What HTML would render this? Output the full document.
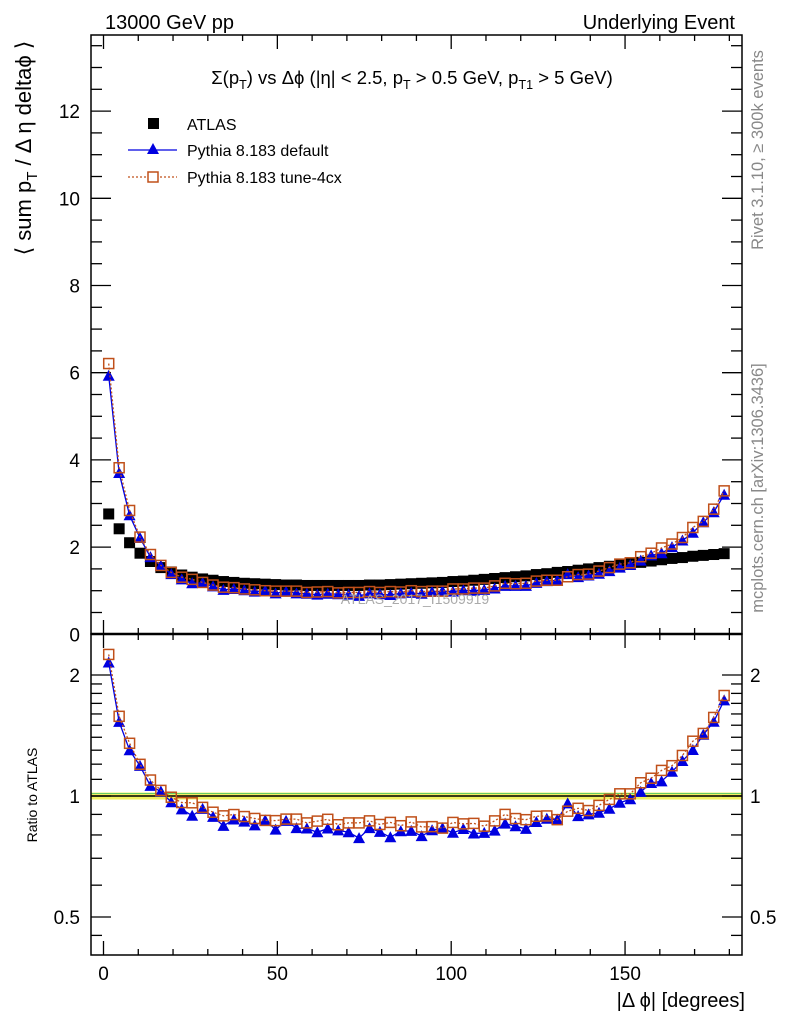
<!DOCTYPE html>
<html><head><meta charset="utf-8"><style>
html,body{margin:0;padding:0;background:#fff;}
svg{display:block;font-family:"Liberation Sans",sans-serif;}
</style></head><body>
<svg id="chart" width="786" height="1024" viewBox="0 0 786 1024" xmlns="http://www.w3.org/2000/svg">
<g id="frames"></g>
<g id="marks"></g>
<g id="texts">
<text x="105" y="29" font-size="20">13000 GeV pp</text>
<text x="735" y="29" font-size="20" text-anchor="end">Underlying Event</text>
<text x="412" y="84" font-size="18.5" text-anchor="middle">Σ(p<tspan font-size="12.5" dy="5">T</tspan><tspan dy="-5">) vs Δϕ (|η| &lt; 2.5, p</tspan><tspan font-size="12.5" dy="5">T</tspan><tspan dy="-5"> &gt; 0.5 GeV, p</tspan><tspan font-size="12.5" dy="5">T1</tspan><tspan dy="-5"> &gt; 5 GeV)</tspan></text>
<text transform="translate(31,148) rotate(-90)" font-size="22" text-anchor="middle">⟨ sum p<tspan font-size="15" dy="6">T</tspan><tspan dy="-6"> / Δ η deltaϕ ⟩</tspan></text>
<text transform="translate(37,795) rotate(-90)" font-size="14" text-anchor="middle">Ratio to ATLAS</text>
<text x="745" y="1007" font-size="20" text-anchor="end">|Δ ϕ| [degrees]</text>
<text transform="translate(763,150) rotate(-90)" font-size="16.5" fill="#888" text-anchor="middle">Rivet 3.1.10, ≥ 300k events</text>
<text transform="translate(763,488) rotate(-90)" font-size="16.5" fill="#888" text-anchor="middle">mcplots.cern.ch [arXiv:1306.3436]</text>
<text x="415" y="604" font-size="14" fill="#aaa" text-anchor="middle">ATLAS_2017_I1509919</text>
</g>
<g id="legend">
<rect x="148" y="118" width="11" height="11" fill="#000"/>
<text x="187" y="130" font-size="16">ATLAS</text>
<line x1="128" y1="150" x2="177" y2="150" stroke="#0000e0" stroke-width="1.3"/>
<polygon points="153,143 147,154 159,154" fill="#0000e0"/>
<text x="187" y="156" font-size="16">Pythia 8.183 default</text>
<line x1="128" y1="177" x2="177" y2="177" stroke="#c0501a" stroke-width="1.3" stroke-dasharray="2,2"/>
<rect x="148" y="172" width="10" height="10" fill="#fff" stroke="#c0501a" stroke-width="1.5"/>
<text x="187" y="183" font-size="16">Pythia 8.183 tune-4cx</text>
</g>
</svg>
<script>
const binCenters=[1.5,4.5,7.5,10.5,13.5,16.5,19.5,22.5,25.5,28.5,31.5,34.5,37.5,40.5,43.5,46.5,49.5,52.5,55.5,58.5,61.5,64.5,67.5,70.5,73.5,76.5,79.5,82.5,85.5,88.5,91.5,94.5,97.5,100.5,103.5,106.5,109.5,112.5,115.5,118.5,121.5,124.5,127.5,130.5,133.5,136.5,139.5,142.5,145.5,148.5,151.5,154.5,157.5,160.5,163.5,166.5,169.5,172.5,175.5,178.5];
const atlasValues=[2.76,2.42,2.10,1.86,1.67,1.53,1.43,1.36,1.31,1.27,1.24,1.21,1.19,1.17,1.16,1.15,1.14,1.13,1.13,1.12,1.12,1.12,1.12,1.12,1.12,1.13,1.13,1.14,1.15,1.16,1.17,1.18,1.19,1.21,1.22,1.24,1.26,1.28,1.30,1.32,1.34,1.37,1.39,1.42,1.44,1.47,1.50,1.53,1.56,1.59,1.62,1.65,1.68,1.71,1.74,1.76,1.79,1.81,1.83,1.85];
const defaultValues=[5.93,3.70,2.73,2.21,1.77,1.57,1.38,1.26,1.17,1.18,1.10,1.02,1.04,1.01,0.98,1.00,0.94,0.98,0.94,0.93,0.91,0.93,0.92,0.91,0.88,0.94,0.92,0.90,0.94,0.95,0.93,0.97,0.99,0.98,1.01,1.00,1.02,1.05,1.11,1.11,1.11,1.18,1.22,1.24,1.38,1.31,1.35,1.39,1.45,1.53,1.59,1.69,1.81,1.86,2.00,2.15,2.33,2.57,2.80,3.20];
const tuneValues=[6.21,3.82,2.84,2.23,1.83,1.58,1.42,1.31,1.26,1.19,1.13,1.08,1.07,1.04,1.02,1.00,0.99,0.99,0.99,0.96,0.97,0.98,0.95,0.96,0.96,0.98,0.96,0.98,0.97,1.00,0.98,0.99,0.99,1.04,1.04,1.06,1.06,1.11,1.17,1.16,1.17,1.22,1.24,1.24,1.32,1.37,1.38,1.45,1.53,1.61,1.64,1.78,1.86,1.98,2.07,2.22,2.45,2.59,2.87,3.29];
const xTicks=[0,50,100,150];
const yTicks=[0,2,4,6,8,10,12];
const ratioTicks=[0.5,1,2];

const NS="http://www.w3.org/2000/svg";
const L=91,R=742,T=35,MB=634,RB=955;
const xs=d=>103.5+d*3.477;
const ys=v=>634.3-v*43.6;
const yr=r=>796-121*Math.log2(r);
function mk(tag,attrs,parent){const e=document.createElementNS(NS,tag);for(const k in attrs)e.setAttribute(k,attrs[k]);parent.appendChild(e);return e;}
const fr=document.getElementById('frames');
const mg=document.getElementById('marks');

let band=mk('rect',{x:L,y:yr(1.02),width:R-L,height:yr(0.98)-yr(1.02),fill:'#f0f060'},fr);


let ref=mk('line',{x1:L,y1:yr(1),x2:R,y2:yr(1),stroke:'#000','stroke-width':1.5},fr);


let g1=mk('line',{x1:L,y1:yr(1)-2.5,x2:R,y2:yr(1)-2.5,stroke:'#6c6','stroke-width':1},fr);



let mf=mk('rect',{x:L,y:T,width:R-L,height:MB-T,fill:'none',stroke:'#000','stroke-width':1.5},fr);


let rf=mk('rect',{x:L,y:MB,width:R-L,height:RB-MB,fill:'none',stroke:'#000','stroke-width':1.5},fr);


mk('line',{x1:L,y1:MB,x2:R,y2:MB,stroke:'#000','stroke-width':2.5},fr);

for(let d=0;d<=185;d+=10){
  const major=d%50===0;const len=major?14:6;const x=xs(d);
  if(x>R)break;
  for(const yb of [MB,RB]){mk('line',{x1:x,y1:yb,x2:x,y2:yb-len,stroke:'#000','stroke-width':1.3},fr);}
  mk('line',{x1:x,y1:T,x2:x,y2:T+(major?14:6),stroke:'#000','stroke-width':1.3},fr);
  mk('line',{x1:x,y1:MB,x2:x,y2:MB+(major?14:6),stroke:'#000','stroke-width':1.3},fr);
}
xTicks.forEach(t=>{const e=mk('text',{x:xs(t),y:980,'font-size':19,'text-anchor':'middle'},fr);e.textContent=t;

});
for(let v=0;v<=13.7;v+=0.5){const y=ys(v);if(y<T)break;const major=Math.abs(v-Math.round(v))<1e-6&&Math.round(v)%2===0;
 const len=major?20:11;
 mk('line',{x1:L,y1:y,x2:L+len,y2:y,stroke:'#000','stroke-width':1.3},fr);
 mk('line',{x1:R,y1:y,x2:R-len,y2:y,stroke:'#000','stroke-width':1.3},fr);}
yTicks.forEach(t=>{const e=mk('text',{x:80,y:ys(t)+7,'font-size':19,'text-anchor':'end'},fr);e.textContent=t;

});
const rminor=[0.45,0.5,0.6,0.7,0.8,0.9,1,1.1,1.2,1.3,1.4,1.5,1.6,1.7,1.8,1.9,2];
rminor.forEach(r=>{const y=yr(r);if(y<MB||y>RB)return;const major=ratioTicks.includes(r);const len=major?20:11;
 mk('line',{x1:L,y1:y,x2:L+len,y2:y,stroke:'#000','stroke-width':1.3},fr);
 mk('line',{x1:R,y1:y,x2:R-len,y2:y,stroke:'#000','stroke-width':1.3},fr);});
ratioTicks.forEach(t=>{
 const e=mk('text',{x:80,y:yr(t)+7,'font-size':19,'text-anchor':'end'},fr);e.textContent=t;
 
 
 const f=mk('text',{x:750,y:yr(t)+7,'font-size':19},fr);f.textContent=t;
 
 });

function drawSeries(vals,yf,color,dash,marker,name){
 if(marker!=='fsq'){
 const pts=binCenters.map((c,i)=>xs(c)+','+yf(vals[i])).join(' ');
 const pl=mk('polyline',{points:pts,fill:'none',stroke:color,'stroke-width':1.3},mg);
 if(dash)pl.setAttribute('stroke-dasharray',dash);
 
 
 }
 binCenters.forEach((c,i)=>{const x=xs(c),y=yf(vals[i]);let e;
  if(marker==='tri'){e=mk('polygon',{points:`${x},${y-6} ${x-6},${y+5} ${x+6},${y+5}`,fill:color},mg);}
  else if(marker==='sq'){e=mk('rect',{x:x-5,y:y-5,width:10,height:10,fill:'none',stroke:color,'stroke-width':1.5},mg);}
  else {e=mk('rect',{x:x-5.5,y:y-5.5,width:11,height:11,fill:color},mg);}
  
  });
}
drawSeries(atlasValues,ys,'#000',null,'fsq','atlas');
drawSeries(defaultValues,ys,'#0000e0',null,'tri','pythia-default');
drawSeries(tuneValues,ys,'#c0501a','2,2','sq','pythia-tune-4cx');
const rDef=defaultValues.map((v,i)=>v/atlasValues[i]);
const rTune=tuneValues.map((v,i)=>v/atlasValues[i]);
drawSeries(rDef,yr,'#0000e0',null,'tri','ratio-default');
drawSeries(rTune,yr,'#c0501a','2,2','sq','ratio-tune-4cx');
</script>
</body></html>
